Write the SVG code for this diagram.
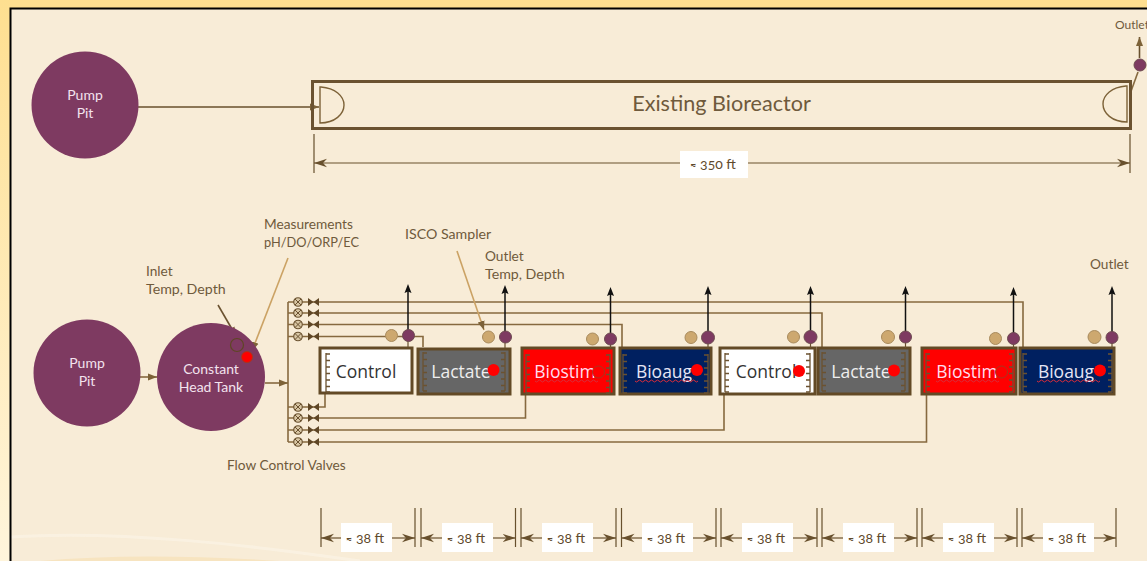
<svg xmlns="http://www.w3.org/2000/svg" width="1147" height="561" viewBox="0 0 1147 561">
<style>
text{font-family:Lato,"Open Sans",sans-serif}
.lb{font-size:13.700px;fill:#6f5a3c}
.wt{font-size:14px;fill:#f3e3ee;text-anchor:middle}
.tk{font-family:"Open Sans",sans-serif;font-size:17.500px;text-anchor:middle}
.dm{font-size:14px;fill:#5f4a2c;text-anchor:middle;font-variant-numeric:oldstyle-nums}
.ap{font-size:12px}
.pipe{fill:none;stroke:#86693f;stroke-width:1.600}
.dim{fill:none;stroke:#68502d;stroke-width:1.200}
.box{stroke:#634a26;stroke-width:3}
.tan{fill:#cda86f;stroke:#a88a5c;stroke-width:1}
.pur{fill:#7e3a61;stroke:#6d4a50;stroke-width:1}
.pump{fill:#7e3a61}
.red{fill:#f00;stroke:#a8361e;stroke-width:1}
.up{stroke:#111;stroke-width:1.500;fill:none}
.sc{fill:none;stroke:#6b5230;stroke-width:1.300}
</style>
<defs>
<linearGradient id="edge" x1="0" y1="0" x2="0" y2="1"><stop offset="0" stop-color="#fedf90"/><stop offset="1" stop-color="#fff5dc"/></linearGradient>
<marker id="br" markerUnits="userSpaceOnUse" markerWidth="14" markerHeight="10" refX="13" refY="5" orient="auto-start-reverse" viewBox="0 0 14 10"><path d="M0 .8L13 5L0 9.200L4 5Z" fill="#68502d"/></marker>
<marker id="sm" markerUnits="userSpaceOnUse" markerWidth="10" markerHeight="8" refX="9" refY="4" orient="auto" viewBox="0 0 10 8"><path d="M0 .5L9 4L0 7.500Z" fill="#7d6238"/></marker>
<path id="ah" d="M0 0L3.500 9L0 7.500L-3.500 9Z" fill="#111"/>
<g id="sl"><path class="sc" d="M0 0V39M0 1h4M0 7.500h4M0 14h4M0 20.500h4M0 27h4M0 33.500h4M0 39h4"/></g>
<g id="sr"><path class="sc" d="M0 0V39M0 1h-4M0 7.500h-4M0 14h-4M0 20.500h-4M0 27h-4M0 33.500h-4M0 39h-4"/></g>
<g id="vl"><circle cx="0" cy="0" r="4.300" fill="#d8c6a4" stroke="#6b5230" stroke-width="1.100"/><path d="M-3-3L3 3M-3 3L3-3" stroke="#6b5230" stroke-width="1"/><path d="M10-4L15.500 0L10 4ZM21-4L15.500 0L21 4Z" fill="#5f4625"/></g>
<path id="wv" d="M0 0q1.500 2 3 0t3 0 3 0 3 0 3 0 3 0 3 0 3 0 3 0 3 0 3 0 3 0 3 0 3 0 3 0 3 0 3 0 3 0 3 0 3 0 3 0" fill="none" stroke="#d92c3a" stroke-width="1"/>
</defs>
<g id="background">
<rect width="1147" height="561" fill="#fedf90"/>
<rect x="0" y="0" width="11" height="561" fill="url(#edge)"/>
<rect x="11" y="9" width="1136" height="552" fill="#f8ecd7"/>
<path d="M11 537C120 530 250 545 360 561" fill="none" stroke="#fbf3e6" stroke-width="3" opacity=".7"/>
<path d="M40 561Q140 552 280 561Z" fill="#f7e4c0"/>
<path d="M10.500 561V8.500H1147" fill="none" stroke="#000" stroke-width="2"/>
</g>
<g id="connectors">
<path class="pipe" style="stroke:#68502d" d="M138 107H319" marker-end="url(#sm)"/>
<path class="pipe" d="M140 377H157" marker-end="url(#sm)"/>
<path class="pipe" d="M265 383H288" marker-end="url(#sm)"/>
<path class="pipe" d="M288 302V442"/>
<path class="pipe" d="M288 302H1023V347"/>
<path class="pipe" d="M288 313H822V347"/>
<path class="pipe" d="M288 324.500H622V347"/>
<path class="pipe" d="M288 336.500H423V347"/>
<path class="pipe" d="M288 407H325V394"/>
<path class="pipe" d="M288 418H525.500V395"/>
<path class="pipe" d="M288 430H724V394"/>
<path class="pipe" d="M288 442H926.500V395"/>
<path class="pipe" style="stroke:#6b5230" d="M218 305L236 336" marker-end="url(#sm)"/>
<path class="pipe" style="stroke:#cba264" d="M288 258L252 351" marker-end="url(#sm)"/>
<path class="pipe" style="stroke:#cba264" d="M457 251L484 330" marker-end="url(#sm)"/>
<path class="pipe" d="M1138 72L1130 94"/>
<path class="pipe" style="stroke:#68502d" d="M1139.500 58V37" marker-end="url(#sm)"/>
</g>
<g id="valves">
<use href="#vl" x="298" y="302"/><use href="#vl" x="298" y="313"/><use href="#vl" x="298" y="324.500"/><use href="#vl" x="298" y="336.500"/>
<use href="#vl" x="298" y="407"/><use href="#vl" x="298" y="418"/><use href="#vl" x="298" y="430"/><use href="#vl" x="298" y="442"/>
</g>
<g id="pump-pit-1"><circle class="pump" cx="85" cy="105" r="53.500"/><text class="wt" x="85" y="100">Pump</text><text class="wt" x="85" y="118">Pit</text></g>
<g id="pump-pit-2"><circle class="pump" cx="87" cy="373" r="53.500"/><text class="wt" x="87" y="368">Pump</text><text class="wt" x="87" y="386">Pit</text></g>
<g id="constant-head-tank"><circle class="pump" cx="211" cy="377" r="54"/><text class="wt" x="211" y="374">Constant</text><text class="wt" x="211" y="392">Head Tank</text>
<circle cx="237" cy="345" r="6.500" fill="none" stroke="#5f4625" stroke-width="1.200"/><circle class="red" cx="247" cy="357" r="5.500"/></g>
<g id="bioreactor">
<rect x="312.500" y="81.500" width="818" height="47" fill="none" stroke="#6b5230" stroke-width="3"/>
<path d="M320 87H321C335 88 344 96 344 105C344 114 335 123 320 123Z" fill="none" stroke="#7d6238" stroke-width="1.400"/>
<path d="M1127 86H1126C1112 87 1103 95 1103 104C1103 113 1112 122 1127 122Z" fill="none" stroke="#7d6238" stroke-width="1.400"/>
<text x="721.500" y="111" font-size="21.600" fill="#6f5a3c" text-anchor="middle">Existing Bioreactor</text>
</g>
<g id="outlet-top"><circle class="pur" cx="1140" cy="65" r="6"/><text x="1115" y="29" font-size="12" fill="#6f5a3c">Outlet</text></g>
<g id="tank-control-1"><rect class="box" x="320" y="348" width="92" height="45" fill="#fff"/><use href="#sl" x="326" y="353"/><text class="tk" x="366" y="378" fill="#333">Control</text></g>
<g id="tank-lactate-1"><rect class="box" x="418" y="349" width="92" height="45" fill="#666"/><use href="#sl" x="423" y="352"/><use href="#sr" x="505" y="352"/><text class="tk" x="461" y="378" fill="#eee">Lactate</text><circle cx="493.500" cy="370" r="6" fill="#f00"/></g>
<g id="tank-biostim-1"><rect class="box" x="522" y="348" width="92" height="46" fill="#f00"/><use href="#sl" x="526" y="354"/><use href="#sr" x="610" y="354"/><text class="tk" x="565" y="378" fill="#fde">Biostim</text><use href="#wv" x="535" y="381"/><circle class="red" cx="598.500" cy="372" r="6"/></g>
<g id="tank-bioaug-1"><rect class="box" x="620" y="348" width="91" height="46" fill="#002060"/><use href="#sl" x="623" y="354"/><use href="#sr" x="708" y="354"/><text class="tk" x="664" y="378" fill="#e6e6f5">Bioaug</text><use href="#wv" x="635" y="381"/><circle cx="697" cy="370" r="6" fill="#f00"/></g>
<g id="tank-control-2"><rect class="box" x="720" y="348" width="95" height="46" fill="#fff"/><use href="#sl" x="725" y="353"/><use href="#sr" x="810" y="353"/><text class="tk" x="766" y="378" fill="#333">Control</text><circle cx="799" cy="371" r="6" fill="#f00"/></g>
<g id="tank-lactate-2"><rect class="box" x="818" y="348" width="92" height="46" fill="#666"/><use href="#sl" x="822" y="352"/><use href="#sr" x="905" y="352"/><text class="tk" x="861" y="378" fill="#eee">Lactate</text><circle cx="894" cy="370.500" r="6" fill="#f00"/></g>
<g id="tank-biostim-2"><rect class="box" x="922" y="348" width="94" height="46" fill="#f00"/><use href="#sl" x="926" y="353"/><use href="#sr" x="1013" y="353"/><text class="tk" x="967" y="378" fill="#fde">Biostim</text><use href="#wv" x="936" y="381"/><circle class="red" cx="1001.500" cy="372" r="6"/></g>
<g id="tank-bioaug-2"><rect class="box" x="1020" y="348" width="94" height="46" fill="#002060"/><use href="#sl" x="1023" y="353"/><use href="#sr" x="1112" y="353"/><text class="tk" x="1066" y="378" fill="#e6e6f5">Bioaug</text><use href="#wv" x="1037" y="381"/><circle cx="1100" cy="370.500" r="6" fill="#f00"/></g>
<g id="sensors">
<path class="up" d="M408 335V290M505 337V291M610.500 339V293M708 337V292M810.500 337V292M905.500 337V292M1013.500 339V293M1112 337V292"/>
<use href="#ah" x="408" y="284"/><use href="#ah" x="505" y="285"/><use href="#ah" x="610.500" y="287"/><use href="#ah" x="708" y="286"/><use href="#ah" x="810.500" y="286"/><use href="#ah" x="905.500" y="286"/><use href="#ah" x="1013.500" y="287"/><use href="#ah" x="1112" y="286"/>
<path d="M408 340V347M505 342V348M610.500 344V348M708 342V348M810.500 342V348M905.500 342V348M1013.500 344V348M1112 342V348" stroke="#6b5230" stroke-width="1.200"/>
<circle class="tan" cx="391.500" cy="335.500" r="6"/><circle class="pur" cx="408.500" cy="335.500" r="6"/>
<circle class="tan" cx="488.500" cy="337" r="6"/><circle class="pur" cx="505.500" cy="337" r="6"/>
<circle class="tan" cx="592.500" cy="339" r="6"/><circle class="pur" cx="610.500" cy="339" r="6"/>
<circle class="tan" cx="691" cy="337.500" r="6"/><circle class="pur" cx="708" cy="337.500" r="6.500"/>
<circle class="tan" cx="793.500" cy="337" r="6"/><circle class="pur" cx="810.500" cy="337" r="6.500"/>
<circle class="tan" cx="888" cy="337" r="6.500"/><circle class="pur" cx="905.500" cy="337" r="6"/>
<circle class="tan" cx="995.500" cy="338.500" r="6"/><circle class="pur" cx="1013.500" cy="338.500" r="6"/>
<circle class="tan" cx="1094.500" cy="337" r="6.500"/><circle class="pur" cx="1112" cy="337.500" r="6"/>
</g>
<g id="labels">
<text class="lb" x="264" y="229">Measurements</text><text class="lb" x="264" y="247" style="font-size:12.800px">pH/DO/ORP/EC</text>
<text class="lb" x="146" y="276">Inlet</text><text class="lb" x="146" y="294" style="font-size:14.200px">Temp, Depth</text>
<text class="lb" x="405" y="239" style="font-size:14.200px">ISCO Sampler</text>
<text class="lb" x="485" y="261">Outlet</text><text class="lb" x="485" y="279" style="font-size:14.200px">Temp, Depth</text>
<text class="lb" x="1090" y="269">Outlet</text>
<text class="lb" x="227" y="470">Flow Control Valves</text>
</g>
<g id="dimensions">
<path class="dim" d="M314 134V173M1130 134V173"/>
<path class="dim" d="M314 163H680" marker-start="url(#br)"/>
<path class="dim" d="M1130 163H748" marker-start="url(#br)"/>
<rect x="680" y="151" width="68" height="27" fill="#fff"/><text class="dm" x="713" y="169"><tspan class="ap">≈</tspan> 350 ft</text>
<path class="dim" d="M321 508V547M415 508V547M421 508V547M515.500 508V547M521 508V547M616 508V547M621.500 508V547M716 508V547M721 508V547M817 508V547M822 508V547M917 508V547M922 508V547M1017 508V547M1022 508V547M1116 508V547"/>
<path class="dim" d="M321 538H341" marker-start="url(#br)"/><path class="dim" d="M415 538H392" marker-start="url(#br)"/>
<path class="dim" d="M421 538H442" marker-start="url(#br)"/><path class="dim" d="M515.500 538H493" marker-start="url(#br)"/>
<path class="dim" d="M521 538H542" marker-start="url(#br)"/><path class="dim" d="M616 538H593" marker-start="url(#br)"/>
<path class="dim" d="M621.500 538H642" marker-start="url(#br)"/><path class="dim" d="M716 538H693" marker-start="url(#br)"/>
<path class="dim" d="M721 538H742" marker-start="url(#br)"/><path class="dim" d="M817 538H793" marker-start="url(#br)"/>
<path class="dim" d="M822 538H843" marker-start="url(#br)"/><path class="dim" d="M917 538H894" marker-start="url(#br)"/>
<path class="dim" d="M922 538H943" marker-start="url(#br)"/><path class="dim" d="M1017 538H994" marker-start="url(#br)"/>
<path class="dim" d="M1022 538H1043" marker-start="url(#br)"/><path class="dim" d="M1116 538H1094" marker-start="url(#br)"/>
<g fill="#fff">
<rect x="341" y="523" width="51" height="29"/><rect x="442" y="523" width="51" height="29"/><rect x="542" y="523" width="51" height="29"/><rect x="642" y="523" width="51" height="29"/><rect x="742" y="523" width="51" height="29"/><rect x="843" y="523" width="51" height="29"/><rect x="943" y="523" width="51" height="29"/><rect x="1043" y="523" width="51" height="29"/>
</g>
<text class="dm" x="365" y="543"><tspan class="ap">≈</tspan> 38 ft</text><text class="dm" x="466" y="543"><tspan class="ap">≈</tspan> 38 ft</text><text class="dm" x="566" y="543"><tspan class="ap">≈</tspan> 38 ft</text><text class="dm" x="666" y="543"><tspan class="ap">≈</tspan> 38 ft</text><text class="dm" x="766" y="543"><tspan class="ap">≈</tspan> 38 ft</text><text class="dm" x="867" y="543"><tspan class="ap">≈</tspan> 38 ft</text><text class="dm" x="967" y="543"><tspan class="ap">≈</tspan> 38 ft</text><text class="dm" x="1067" y="543"><tspan class="ap">≈</tspan> 38 ft</text>
</g>
</svg>
